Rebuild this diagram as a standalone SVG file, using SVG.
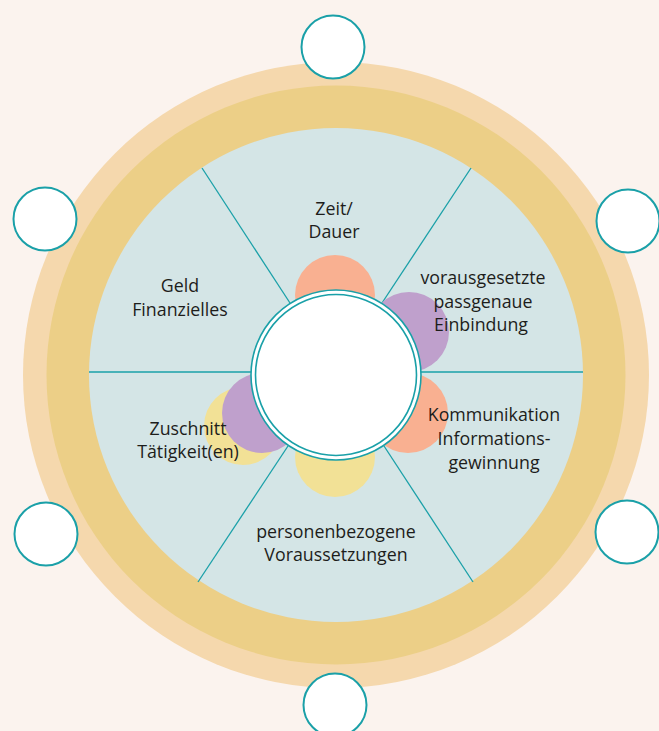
<svg xmlns="http://www.w3.org/2000/svg" width="659" height="731" viewBox="0 0 659 731">
<style>
.lbl{font-family:"Open Sans","Liberation Sans",sans-serif;font-size:17.8px;fill:#1d1d1b;text-anchor:middle}
.sat{fill:#fff;stroke:#1aa0a8;stroke-width:2}
.div{stroke:#1aa0a8;stroke-width:1.3;fill:none}
</style>
<rect width="659" height="731" fill="#fbf3ee"/>
<g id="rings">
<circle cx="336" cy="375" r="313" fill="#f5d8ad"/>
<circle cx="336" cy="375" r="289.5" fill="#eccf87"/>
<circle cx="336" cy="375" r="247" fill="#d4e5e6"/>
</g>
<g id="connectors">
<line class="div" x1="89" y1="372" x2="583" y2="372" stroke-width="2"/>
<line class="div" x1="202" y1="168" x2="290" y2="303"/>
<line class="div" x1="471" y1="168" x2="382" y2="303"/>
<line class="div" x1="198" y1="582" x2="288" y2="446"/>
<line class="div" x1="473" y1="582" x2="384" y2="446"/>
</g>
<g id="petals">
<circle cx="243" cy="426" r="39" fill="#f2e196"/>
<circle cx="262" cy="413" r="40" fill="#bfa0cc"/>
<circle cx="335" cy="295" r="40" fill="#f9b091"/>
<circle cx="409" cy="332" r="40" fill="#bfa0cc"/>
<circle cx="408" cy="413" r="40" fill="#f9b091"/>
<circle cx="335" cy="457" r="40" fill="#f2e196"/>
</g>
<g id="center">
<circle cx="336" cy="375" r="85" fill="#fff" stroke="#1aa0a8" stroke-width="1.6"/>
<circle cx="336" cy="375" r="80.5" fill="#fff" stroke="#1aa0a8" stroke-width="1.6"/>
</g>
<g id="sat-top"><circle class="sat" cx="333" cy="47" r="31.5"/></g>
<g id="sat-topleft"><circle class="sat" cx="45" cy="219" r="31.5"/></g>
<g id="sat-topright"><circle class="sat" cx="628" cy="221" r="31.5"/></g>
<g id="sat-bottomleft"><circle class="sat" cx="46" cy="534" r="31.5"/></g>
<g id="sat-bottomright"><circle class="sat" cx="627" cy="532" r="31.5"/></g>
<g id="sat-bottom"><circle class="sat" cx="335" cy="705" r="31.5"/></g>
<g id="seg-zeit"><text class="lbl" x="334" y="215">Zeit/</text><text class="lbl" x="334" y="238">Dauer</text></g>
<g id="seg-geld"><text class="lbl" x="180" y="292">Geld</text><text class="lbl" x="180" y="316">Finanzielles</text></g>
<g id="seg-einbindung"><text class="lbl" x="483" y="284">vorausgesetzte</text><text class="lbl" x="483" y="308">passgenaue</text><text class="lbl" x="481" y="331">Einbindung</text></g>
<g id="seg-kommunikation"><text class="lbl" x="494" y="421">Kommunikation</text><text class="lbl" x="494" y="445">Informations-</text><text class="lbl" x="494" y="469">gewinnung</text></g>
<g id="seg-zuschnitt"><text class="lbl" x="188" y="435">Zuschnitt</text><text class="lbl" x="188" y="458">Tätigkeit(en)</text></g>
<g id="seg-personen"><text class="lbl" x="336" y="538">personenbezogene</text><text class="lbl" x="336" y="561">Voraussetzungen</text></g>
</svg>
